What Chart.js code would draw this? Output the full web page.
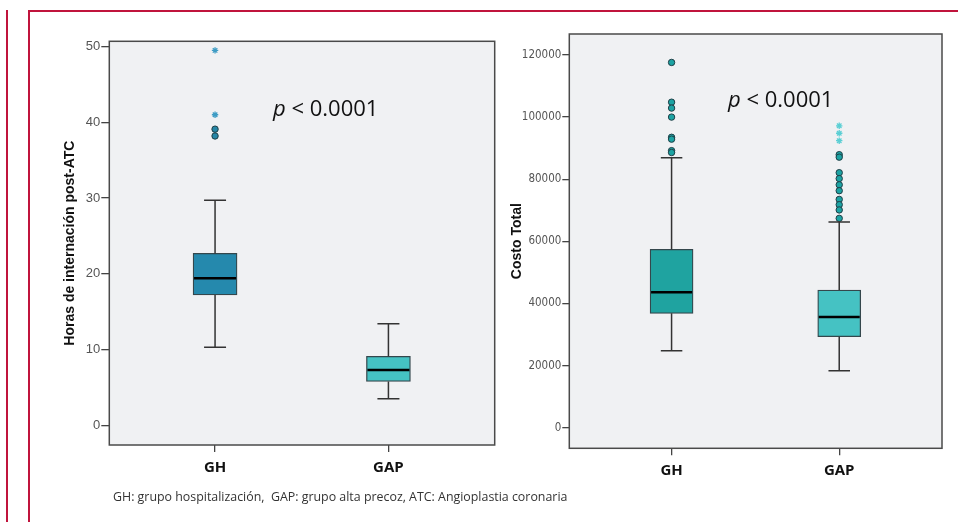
<!DOCTYPE html>
<html>
<head>
<meta charset="utf-8">
<script src="https://cdn.jsdelivr.net/npm/chart.js@4/dist/chart.umd.min.js"></script>
<style>
  body { margin: 0; background: #fff; width: 958px; height: 522px; overflow: hidden; position: relative; }
  .rule { position: absolute; background: #c0143c; }
  .wrap { position: absolute; top: 0; height: 522px; }
  .pval { position: absolute; font-family: "Open Sans", sans-serif; font-size: 22px; line-height: 26px; color: #111; white-space: nowrap; }
  .caption { position: absolute; left: 113px; top: 488px; font-family: "Open Sans", sans-serif; font-size: 12.4px; color: #333; white-space: nowrap; }
</style>
</head>
<body>
<div class="rule" style="left:6px; top:10px; width:2px; height:512px;"></div>
<div class="rule" style="left:28px; top:10px; width:2px; height:512px;"></div>
<div class="rule" style="left:28px; top:10px; width:930px; height:2px;"></div>

<div class="wrap" style="left:0; width:500px;"><canvas id="horasChart"></canvas></div>
<div class="wrap" style="left:500px; width:458px;"><canvas id="costoChart"></canvas></div>

<div class="pval" style="left:273px; top:94px;"><i>p</i> &lt; 0.0001</div>
<div class="pval" style="left:728px; top:85px;"><i>p</i> &lt; 0.0001</div>
<div class="caption">GH: grupo hospitalización,&nbsp; GAP: grupo alta precoz, ATC: Angioplastia coronaria</div>

<script>
// Grupos
const groups = ["GH", "GAP"];

// Horas de internación post-ATC
const horasQ1 = [17.2, 5.8];
const horasQ3 = [22.7, 9.1];
const horasMedian = [19.4, 7.3];
const horasLow = [10.3, 3.5];
const horasHigh = [29.7, 13.4];
const horasOutGH = [39.1, 38.2];
const horasExtGH = [49.5, 41.0];
const horasTicks = [0, 10, 20, 30, 40, 50];

// Costo Total
const costoQ1 = [36800, 29300];
const costoQ3 = [57400, 44300];
const costoMedian = [43600, 35600];
const costoLow = [24800, 18300];
const costoHigh = [86900, 66200];
const costoOutGH = [117600, 104800, 102900, 100000, 93500, 92900, 89200, 88600];
const costoOutGAP = [87900, 87100, 82100, 80200, 78200, 76300, 73500, 71800, 70100, 67400];
const costoExtGAP = [97200, 94800, 92400];
const costoTicks = [0, 20000, 40000, 60000, 80000, 100000, 120000];

const toPoints = (vals, group) => vals.map((v) => ({ x: group, y: v }));

// Plugin: fondo, bigotes, mediana y marco del area
const makeBoxDecor = (stats) => ({
  id: "boxDecor",
  beforeDraw(chart) {
    const { ctx, chartArea: a } = chart;
    ctx.save();
    ctx.fillStyle = "#f0f1f3";
    ctx.fillRect(a.left, a.top, a.width, a.height);
    ctx.restore();
  },
  afterDatasetsDraw(chart) {
    const { ctx, scales } = chart;
    const x = scales.x, y = scales.y;
    ctx.save();
    stats.median.forEach((m, i) => {
      const cx = x.getPixelForValue(i + 1);
      const cap = stats.boxWidth / 4;
      const half = stats.boxWidth / 2;
      const yHigh = y.getPixelForValue(stats.high[i]);
      const yLow = y.getPixelForValue(stats.low[i]);
      ctx.strokeStyle = "#333";
      ctx.lineWidth = 1.5;
      ctx.beginPath();
      ctx.moveTo(cx, y.getPixelForValue(stats.q3[i]));
      ctx.lineTo(cx, yHigh);
      ctx.moveTo(cx, y.getPixelForValue(stats.q1[i]));
      ctx.lineTo(cx, yLow);
      ctx.moveTo(cx - cap, yHigh);
      ctx.lineTo(cx + cap, yHigh);
      ctx.moveTo(cx - cap, yLow);
      ctx.lineTo(cx + cap, yLow);
      ctx.stroke();
      // mediana
      const yMed = y.getPixelForValue(m);
      ctx.strokeStyle = "#000";
      ctx.lineWidth = 2.5;
      ctx.beginPath();
      ctx.moveTo(cx - half + 1, yMed);
      ctx.lineTo(cx + half - 1, yMed);
      ctx.stroke();
    });
    ctx.restore();
  },
  afterDraw(chart) {
    const { ctx, chartArea: a } = chart;
    ctx.save();
    ctx.strokeStyle = "#4a4a4a";
    ctx.lineWidth = 1.5;
    ctx.strokeRect(a.left, a.top, a.width, a.height);
    ctx.restore();
  },
});

const makeBoxChart = (canvasId, cfg) => {
  const datasets = [
    {
      type: "bar",
      data: groups.map((g, i) => ({ x: i + 1, y: [cfg.q1[i], cfg.q3[i]] })),
      backgroundColor: cfg.boxColors,
      borderColor: "#34474c",
      borderWidth: 1.3,
      borderSkipped: false,
      barThickness: cfg.boxWidth,
      order: 3,
    },
  ];
  cfg.circles.forEach((c) => {
    datasets.push({
      type: "scatter",
      data: toPoints(c.values, c.group),
      pointStyle: "circle",
      pointRadius: 3.2,
      backgroundColor: c.color,
      borderColor: "#1f3f46",
      borderWidth: 1,
      order: 1,
    });
  });
  cfg.stars.forEach((s) => {
    datasets.push({
      type: "scatter",
      data: toPoints(s.values, s.group),
      pointStyle: "star",
      pointRadius: 3.2,
      borderColor: s.color,
      borderWidth: 1.3,
      order: 1,
    });
  });

  return new Chart(document.getElementById(canvasId), {
    data: { datasets: datasets },
    options: {
      responsive: true,
      maintainAspectRatio: false,
      animation: false,
      layout: { padding: cfg.padding },
      plugins: { legend: { display: false }, tooltip: { enabled: false } },
      scales: {
        x: {
          type: "linear",
          min: 0.39,
          max: 2.613,
          offset: false,
          afterBuildTicks: (s) => {
            s.ticks = groups.map((g, i) => ({ value: i + 1 }));
          },
          afterFit: (s) => {
            s.height = cfg.xHeight;
          },
          ticks: {
            callback: (v) => groups[v - 1],
            font: { family: "'Open Sans', sans-serif", size: 15, weight: "bold" },
            color: "#111",
            padding: cfg.xPad,
            maxRotation: 0,
            autoSkip: false,
          },
          grid: { offset: false, drawOnChartArea: false, tickLength: 7, color: "#444", lineWidth: 1.3 },
          border: { display: false },
        },
        y: {
          min: cfg.yMin,
          max: cfg.yMax,
          afterBuildTicks: (s) => {
            s.ticks = cfg.ticks.map((v) => ({ value: v }));
          },
          afterFit: (s) => {
            s.width = cfg.yWidth;
          },
          ticks: {
            font: cfg.tickFont,
            color: "#555",
            padding: 1,
            callback: (v) => String(v),
          },
          grid: { drawOnChartArea: false, tickLength: cfg.tickLength, color: "#444", lineWidth: 1.3 },
          border: { display: false },
          title: {
            display: true,
            text: cfg.title,
            font: { family: "'Liberation Sans', Arial, sans-serif", size: 14, weight: "bold" },
            color: "#111",
            padding: { top: cfg.titlePad, bottom: 0 },
          },
        },
      },
    },
    plugins: [
      makeBoxDecor({
        q1: cfg.q1,
        q3: cfg.q3,
        median: cfg.median,
        low: cfg.low,
        high: cfg.high,
        boxWidth: cfg.boxWidth,
      }),
    ],
  });
};

makeBoxChart("horasChart", {
  q1: horasQ1,
  q3: horasQ3,
  median: horasMedian,
  low: horasLow,
  high: horasHigh,
  ticks: horasTicks,
  yMin: -2.6,
  yMax: 50.7,
  title: "Horas de internación post-ATC",
  titlePad: 61.6,
  boxColors: ["#2589ad", "#45c2c3"],
  boxWidth: 44,
  circles: [{ group: 1, values: horasOutGH, color: "#2586a6" }],
  stars: [{ group: 1, values: horasExtGH, color: "#3e9cc4" }],
  padding: { top: 41.3, right: 4.3, bottom: 0, left: 0 },
  yWidth: 109.3,
  xHeight: 77,
  xPad: 7,
  tickLength: 8,
  tickFont: { family: "'Liberation Sans', Arial, sans-serif", size: 13 },
});

makeBoxChart("costoChart", {
  q1: costoQ1,
  q3: costoQ3,
  median: costoMedian,
  low: costoLow,
  high: costoHigh,
  ticks: costoTicks,
  yMin: -6650,
  yMax: 126760,
  title: "Costo Total",
  titlePad: 8.9,
  boxColors: ["#1fa3a0", "#45c2c3"],
  boxWidth: 43,
  circles: [
    { group: 1, values: costoOutGH, color: "#1ca3a3" },
    { group: 2, values: costoOutGAP, color: "#1ca3a3" },
  ],
  stars: [{ group: 2, values: costoExtGAP, color: "#5ccfd4" }],
  padding: { top: 34, right: 16, bottom: 0, left: 0 },
  yWidth: 69.3,
  xHeight: 73.7,
  xPad: 6,
  tickLength: 7,
  tickFont: { family: "'Liberation Sans Narrow', 'DejaVu Sans Condensed', sans-serif", size: 11.5 },
});
</script>
</body>
</html>
